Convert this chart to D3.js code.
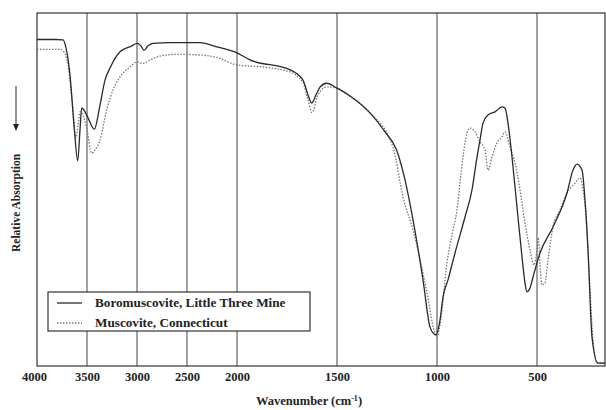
<!DOCTYPE html>
<html>
<head>
<meta charset="utf-8">
<script src="https://cdn.jsdelivr.net/npm/d3@7.9.0/dist/d3.min.js"></script>
<style>
  body { margin: 0; background: #fff; }
  svg { display: block; }
  svg text { font-family: "Liberation Serif", "Times New Roman", Times, "DejaVu Serif", serif; font-weight: bold; fill: #222; }
</style>
</head>
<body>
<svg width="606" height="410"></svg>
<script>
// wavenumber (cm-1) and relative absorption reading (0 = bottom of frame, 100 = top)
const boroWave = [4000, 3820, 3740, 3710, 3670, 3630, 3593, 3570, 3553, 3530, 3490, 3427, 3370, 3320, 3270, 3170, 3050, 3000, 2960, 2930, 2890, 2840, 2670, 2370, 2200, 2000, 1935, 1735, 1670, 1645, 1627, 1605, 1585, 1552, 1502, 1435, 1335, 1260, 1202, 1160, 1120, 1070, 1035, 1015, 1005, 985, 970, 945, 910, 860, 825, 800, 785, 770, 745, 710, 675, 660, 645, 625, 600, 575, 560, 550, 535, 520, 485, 420, 350, 320, 300, 275, 260, 245, 225, 195, 160];
const boroValue = [92.5, 92.5, 92.4, 90.1, 82.4, 68.3, 58.1, 66.9, 73.1, 72.5, 70.3, 67.1, 73.9, 81.0, 84.4, 89.0, 90.7, 91.4, 90.7, 89.4, 90.7, 91.4, 91.6, 91.6, 90.4, 88.7, 86.7, 83.9, 81.0, 76.8, 74.5, 76.8, 79.0, 80.1, 78.8, 76.5, 71.7, 66.3, 61.2, 52.7, 41.4, 24.4, 11.0, 9.1, 8.8, 13.0, 19.5, 24.4, 32.0, 42.2, 49.9, 59.2, 64.0, 68.8, 71.1, 72.0, 73.4, 73.1, 68.8, 59.2, 45.0, 30.9, 23.5, 21.0, 22.1, 25.2, 32.0, 39.4, 49.0, 55.5, 57.2, 55.5, 47.0, 32.9, 8.2, 0.8, 0.8];

const muscWave = [4000, 3770, 3730, 3690, 3650, 3610, 3590, 3570, 3540, 3500, 3453, 3420, 3370, 3303, 3240, 3170, 3070, 3003, 2940, 2870, 2770, 2600, 2370, 2200, 2000, 1870, 1735, 1670, 1645, 1625, 1595, 1550, 1505, 1435, 1335, 1220, 1170, 1120, 1050, 1015, 1000, 985, 950, 920, 900, 885, 870, 850, 835, 810, 785, 760, 745, 725, 700, 675, 660, 635, 610, 585, 560, 535, 515, 500, 493, 485, 475, 460, 445, 420, 385, 350, 310, 285, 270, 255, 235, 220, 200, 160];
const muscValue = [89.7, 89.7, 89.0, 85.3, 75.4, 64.6, 68.3, 72.0, 71.1, 66.9, 60.3, 61.2, 64.0, 72.5, 78.2, 81.9, 84.7, 86.1, 85.7, 86.7, 87.8, 88.3, 88.1, 87.4, 85.3, 84.7, 83.3, 80.2, 75.4, 71.8, 76.8, 79.1, 78.8, 76.5, 71.7, 62.0, 47.9, 38.5, 20.7, 10.2, 8.2, 11.6, 29.2, 38.5, 44.2, 51.8, 59.2, 66.0, 67.4, 66.3, 63.5, 61.2, 55.5, 59.2, 63.2, 64.9, 66.3, 62.0, 57.5, 49.9, 40.5, 32.9, 28.6, 32.9, 36.3, 28.6, 22.9, 23.5, 30.0, 39.4, 44.2, 49.0, 51.8, 53.3, 49.9, 42.8, 21.5, 7.4, 0.8, 0.8];

const tickValues = [4000, 3500, 3000, 2500, 2000, 1500, 1000, 500];
const seriesNames = ['Boromuscovite, Little Three Mine', 'Muscovite, Connecticut'];

const svg = d3.select('svg');
const plotLeft = 37, plotRight = 605, plotTop = 13, plotBottom = 366;
const serif = '"Liberation Serif", "Times New Roman", Times, "DejaVu Serif", serif';

// spectrometer scale change at 2000 cm-1
const x = d3.scaleLinear().domain([4000, 2000, 160]).range([plotLeft, 237, plotRight]);
const y = d3.scaleLinear().domain([0, 100]).range([plotBottom, plotTop]);

// vertical grid
svg.append('g')
  .selectAll('line')
  .data(tickValues.slice(1))
  .join('line')
  .attr('x1', (d) => x(d)).attr('x2', (d) => x(d))
  .attr('y1', plotTop).attr('y2', plotBottom)
  .attr('stroke', '#444').attr('stroke-width', 1);

// frame
svg.append('rect')
  .attr('x', plotLeft).attr('y', plotTop)
  .attr('width', plotRight - plotLeft).attr('height', plotBottom - plotTop)
  .attr('fill', 'none').attr('stroke', '#333').attr('stroke-width', 1.2);

const xAxis = svg.append('g')
  .attr('transform', `translate(0,${plotBottom})`)
  .call(d3.axisBottom(x).tickValues(tickValues).tickFormat(d3.format('d')).tickSize(0).tickPadding(6));
xAxis.attr('font-family', serif).attr('font-size', 12.5);
xAxis.select('.domain').remove();
xAxis.selectAll('text')
  .attr('fill', '#222')
  .attr('dx', (d) => (d === 4000 ? -3 : 0));

const line = d3.line()
  .x((d) => x(d[0]))
  .y((d) => y(d[1]))
  .curve(d3.curveMonotoneX);

const boro = boroWave.map((w, i) => [w, boroValue[i]]);
const musc = muscWave.map((w, i) => [w, muscValue[i]]);

svg.append('path')
  .attr('d', line(musc))
  .attr('fill', 'none')
  .attr('stroke', '#777')
  .attr('stroke-width', 1.3)
  .attr('stroke-dasharray', '1.5,1.5');

svg.append('path')
  .attr('d', line(boro))
  .attr('fill', 'none')
  .attr('stroke', '#2a2a2a')
  .attr('stroke-width', 1.3);

// legend
const legend = svg.append('g');
legend.append('rect')
  .attr('x', 48).attr('y', 292)
  .attr('width', 262).attr('height', 39)
  .attr('fill', '#fff').attr('stroke', '#333').attr('stroke-width', 1.2);

seriesNames.forEach((name, i) => {
  const ly = 303 + i * 20;
  legend.append('line')
    .attr('x1', 57).attr('x2', 82)
    .attr('y1', ly).attr('y2', ly)
    .attr('stroke', i === 0 ? '#2a2a2a' : '#777')
    .attr('stroke-width', 1.3)
    .attr('stroke-dasharray', i === 0 ? null : '1.5,1.5');
  legend.append('text')
    .attr('x', 95).attr('y', ly + 4)
    .attr('font-size', 13.2)
    .text(name);
});

// axis titles
svg.append('text')
  .attr('x', 309).attr('y', 405)
  .attr('text-anchor', 'middle')
  .attr('font-size', 12.5)
  .html('Wavenumber (cm<tspan baseline-shift="super" font-size="8">-1</tspan>)');

svg.append('text')
  .attr('transform', 'translate(20,252) rotate(-90)')
  .attr('font-size', 11.5)
  .text('Relative Absorption');

svg.append('line')
  .attr('x1', 16).attr('x2', 16)
  .attr('y1', 86).attr('y2', 128)
  .attr('stroke', '#222').attr('stroke-width', 1);
svg.append('path')
  .attr('d', 'M13,124 L16,131 L19,124 Z')
  .attr('fill', '#222');
</script>
</body>
</html>
